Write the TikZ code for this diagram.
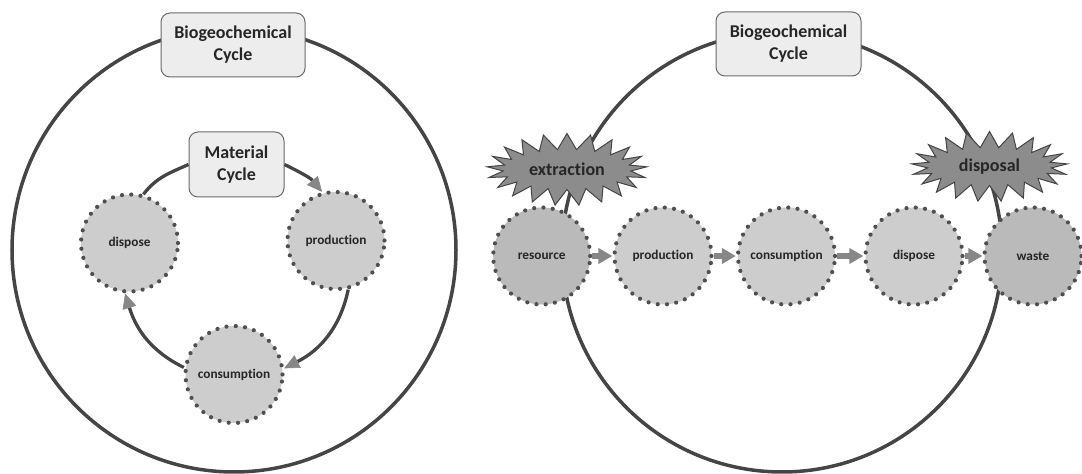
\documentclass[tikz,border=0pt]{standalone}
\usepackage{fontspec}
\setmainfont{Carlito}[Ligatures=NoCommon]
\usetikzlibrary{shapes.symbols,arrows.meta}
\definecolor{linegray}{HTML}{454545}
\definecolor{boxfill}{HTML}{EDEDED}
\definecolor{boxdraw}{HTML}{6A6A6A}
\definecolor{nodefill}{HTML}{CDCDCD}
\definecolor{darknode}{HTML}{BABABA}
\definecolor{dotcol}{HTML}{4F4F4F}
\definecolor{burstfill}{HTML}{8C8C8C}
\definecolor{arrowgray}{HTML}{878787}
\definecolor{txt}{HTML}{262626}
\begin{document}
\begin{tikzpicture}[x=1pt,y=1pt,
  cyclebox/.style={draw=boxdraw, line width=1pt, fill=boxfill, rounded corners=9pt,
    minimum width=144pt, minimum height=64pt, inner sep=0pt, align=center,
    font=\fontsize{18}{22}\selectfont\bfseries, text=txt},
  stage/.style={circle, fill=nodefill, draw=dotcol, line width=4.2pt, line cap=round,
    dash pattern=on 0pt off 9.3pt, minimum size=97pt, inner sep=0pt,
    font=\fontsize{13.3}{16}\selectfont\bfseries, text=txt},
  endstage/.style={stage, fill=darknode},
  burst/.style={starburst, starburst points=21, starburst point height=16pt,
    random starburst=0, fill=burstfill, draw=linegray, line width=1pt, inner sep=0pt,
    font=\fontsize{18}{22}\selectfont\bfseries, text=txt},
  bigring/.style={draw=linegray, line width=3.5pt},
  cyclearrow/.style={draw=linegray, line width=3.3pt,
    -{Triangle[length=15pt,width=14pt,color=arrowgray,line width=0.6pt]}},
  flowarrow/.style={draw=arrowgray, line width=6pt, -{Triangle[length=14pt,width=15pt]}}
]
\fill[white] (0,0) rectangle (1082,474);
\useasboundingbox (0,0) rectangle (1082,474);

% ---------- left: material cycle inside biogeochemical cycle ----------
\draw[bigring] (234,224) circle[radius=222];
\node[cyclebox] (bgL) at (233,429) {Biogeochemical\\Cycle};
\node[cyclebox, minimum width=95pt, minimum height=65pt] (mc) at (236.5,309.5) {Material\\Cycle};
\node[stage] (dispL) at (129.5,231) {dispose};
\node[stage] (prodL) at (336,233.5) {production};
\node[stage] (consL) at (234,99.5) {consumption};

\draw[cyclearrow] (mc.east) to[out=-26,in=130] (prodL.106);
\draw[cyclearrow] (prodL.-76) to[out=-102,in=27] (consL.7);
\draw[cyclearrow] (consL.172) to[out=154,in=-73] (dispL.-95);
\draw[draw=linegray, line width=3.3pt] (dispL.74) to[out=53,in=-156] (mc.west);

% ---------- right: linear flow crossing the biogeochemical cycle ----------
\draw[bigring] (782,222) circle[radius=220];
\node[cyclebox, minimum width=145pt] (bgR) at (788.5,430) {Biogeochemical\\Cycle};
\node[burst, minimum width=160pt, minimum height=72pt] (ext) at (567,304.5) {extraction};
\node[burst, minimum width=156pt, minimum height=70pt] (dsp) at (989.5,307.5) {disposal};

\node[endstage] (res) at (541.7,218) {resource};
\node[stage] (prodR) at (663,218) {production};
\node[stage] (consR) at (786.5,218) {consumption};
\node[stage] (dispR) at (914,218) {dispose};
\node[endstage] (waste) at (1033,218) {waste};

\draw[flowarrow] (res) -- (prodR);
\draw[flowarrow] (prodR) -- (consR);
\draw[flowarrow] (consR) -- (dispR);
\draw[flowarrow] (dispR) -- (waste);
\end{tikzpicture}
\end{document}
